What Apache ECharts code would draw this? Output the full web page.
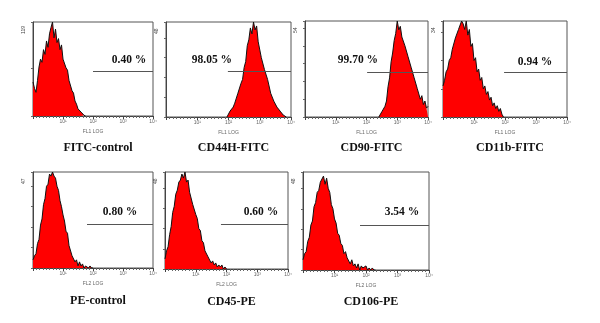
<!DOCTYPE html>
<html>
<head>
<meta charset="utf-8">
<script src="https://cdn.jsdelivr.net/npm/echarts@6/dist/echarts.min.js"></script>
<style>
  html, body { margin: 0; padding: 0; background: #fff; }
  #chart { width: 600px; height: 323px; }
</style>
</head>
<body>
<div id="chart"></div>
<script>
// panel captions, gate percentages, channel names
const titles = ['FITC-control', 'CD44H-FITC', 'CD90-FITC', 'CD11b-FITC', 'PE-control', 'CD45-PE', 'CD106-PE']
const percents = ['0.40 %', '98.05 %', '99.70 %', '0.94 %', '0.80 %', '0.60 %', '3.54 %']
const channels = ['FL1 LOG', 'FL1 LOG', 'FL1 LOG', 'FL1 LOG', 'FL2 LOG', 'FL2 LOG', 'FL2 LOG']
const yMax = [119, 48, 54, 34, 47, 48, 48]
const yStep = [60, 10, 10, 10, 10, 10, 10]
const decadeLabels = ['', '10¹', '10²', '10³', '10⁴']

// histogram counts, one value per 0.05 log-decade bin starting at binStart
const binStep = 0.05
const binStart = [0, 1.95, 2.40, 0, 0, 0, 0]
const counts1 = [43, 35, 30, 45, 62, 72, 68, 84, 78, 95, 87, 104, 112, 119, 99, 110, 93, 98, 84, 90, 72, 70, 61, 58, 45, 43, 32, 29, 19, 15, 9, 11, 5, 4, 1, 0]
const counts2 = [0, 1, 3, 2, 5, 7, 8, 12, 13, 17, 19, 25, 28, 36, 39, 45, 42, 48, 44, 46, 38, 38, 30, 31, 24, 23, 19, 18, 12, 13, 8, 9, 5, 6, 3, 3, 1, 2, 0]
const counts3 = [0, 1, 3, 2, 6, 9, 17, 22, 31, 36, 43, 47, 54, 49, 51, 45, 46, 40, 41, 34, 35, 28, 28, 22, 21, 16, 15, 10, 12, 7, 9, 5, 6]
const counts4 = [11, 13, 16, 17, 20, 21, 24, 24, 28, 28, 31, 31, 34, 33, 31, 34, 29, 31, 25, 26, 20, 21, 16, 17, 13, 14, 10, 11, 8, 9, 6, 7, 4, 5, 3, 4, 2, 3, 1, 0]
const counts5 = [4, 6, 7, 12, 14, 21, 24, 31, 34, 40, 41, 46, 45, 47, 45, 44, 40, 38, 33, 30, 26, 23, 18, 17, 11, 11, 6, 6, 3, 4, 1, 3, 1, 2, 0, 1, 1, 0, 1, 0, 0]
const counts6 = [5, 9, 11, 17, 21, 28, 31, 37, 39, 43, 44, 47, 45, 48, 43, 44, 38, 38, 32, 32, 27, 25, 20, 19, 14, 13, 9, 9, 6, 6, 3, 4, 2, 3, 1, 2, 1, 2, 0, 1, 0]
const counts7 = [5, 8, 9, 14, 16, 22, 24, 31, 33, 38, 39, 43, 43, 46, 42, 45, 40, 38, 32, 30, 25, 23, 18, 17, 13, 12, 8, 9, 6, 6, 3, 5, 2, 3, 1, 3, 0, 2, 1, 1, 2, 0, 1, 0, 1, 0, 0]
const counts = [counts1, counts2, counts3, counts4, counts5, counts6, counts7]

// gate marker: start (log decade) and height (count)
const gateStart = [2.0, 1.98, 2.02, 1.97, 1.8, 1.82, 1.81]
const gateLevel = [57, 23, 25, 16, 21.5, 22, 22]

// layout (pixels) and where the percentage sits, in data coords
const boxes = [
  [33, 22, 120, 94], [166, 22, 125, 95], [305, 21, 123, 96], [443, 21, 124, 96],
  [33, 172, 120, 96], [165, 172, 123, 97], [303, 172, 126, 98]
]
const labelAt = [[3.2, 71], [1.47, 29], [1.72, 32], [2.97, 19.5], [2.9, 27.4], [3.12, 28.2], [3.14, 28.4]]
const titleY = [144, 144, 144, 144, 297, 298, 298]

const chart = echarts.init(document.getElementById('chart'), null, { renderer: 'canvas' })

const grid = [], xAxis = [], yAxis = [], series = [], title = [], graphic = []

boxes.forEach(([left, top, width, height], i) => {
  grid.push({ left, top, width, height, show: true, borderColor: '#555', borderWidth: 1, backgroundColor: '#fff' })
  xAxis.push({
    gridIndex: i, type: 'value', min: 0, max: 4, interval: 1,
    name: channels[i], nameLocation: 'middle', nameGap: 13,
    nameTextStyle: { fontSize: 5, color: '#666', fontFamily: 'Arial' },
    axisLine: { lineStyle: { color: '#444', width: 1 } },
    axisTick: { show: true, length: 3, lineStyle: { color: '#444' } },
    minorTick: { show: true, splitNumber: 9, length: 2, lineStyle: { color: '#666' } },
    splitLine: { show: false },
    axisLabel: { fontSize: 5, color: '#666', margin: 3, formatter: v => decadeLabels[v] || '', showMinLabel: false }
  })
  yAxis.push({
    gridIndex: i, type: 'value', min: 0, max: yMax[i], interval: yStep[i],
    axisLine: { show: true, lineStyle: { color: '#444', width: 1 } },
    axisTick: { show: true, length: 2, lineStyle: { color: '#666' } },
    axisLabel: { show: false },
    splitLine: { show: false }
  })
  const data = counts[i].map((c, k) => [binStart[i] + k * binStep, c])
  series.push({
    type: 'line', xAxisIndex: i, yAxisIndex: i, data,
    symbol: 'none', silent: true,
    lineStyle: { color: '#111', width: 1 },
    areaStyle: { color: '#ff0000', opacity: 1 },
    markLine: {
      silent: true, symbol: 'none',
      lineStyle: { color: '#555', width: 1, type: 'solid' },
      label: { show: false },
      data: [[{ coord: [gateStart[i], gateLevel[i]] }, { coord: [4, gateLevel[i]] }]]
    },
    markPoint: {
      silent: true, symbol: 'circle', symbolSize: 0,
      label: {
        show: true, position: 'inside', formatter: percents[i],
        fontFamily: 'Liberation Serif', fontWeight: 'bold', fontSize: 11.5, color: '#111'
      },
      data: [{ coord: labelAt[i] }]
    }
  })
  title.push({
    text: titles[i], left: left + width / 2, top: titleY[i] - 7, textAlign: 'center',
    textStyle: { fontFamily: 'Liberation Serif', fontWeight: 'bold', fontSize: 12, color: '#111' }
  })
  graphic.push({
    type: 'text', x: left - 12, y: top + 12, rotation: Math.PI / 2,
    style: { text: String(yMax[i]), fontSize: 5, fill: '#444', fontFamily: 'Arial' }
  })
})

chart.setOption({ animation: false, backgroundColor: '#fff', grid, xAxis, yAxis, series, title, graphic })
</script>
</body>
</html>
